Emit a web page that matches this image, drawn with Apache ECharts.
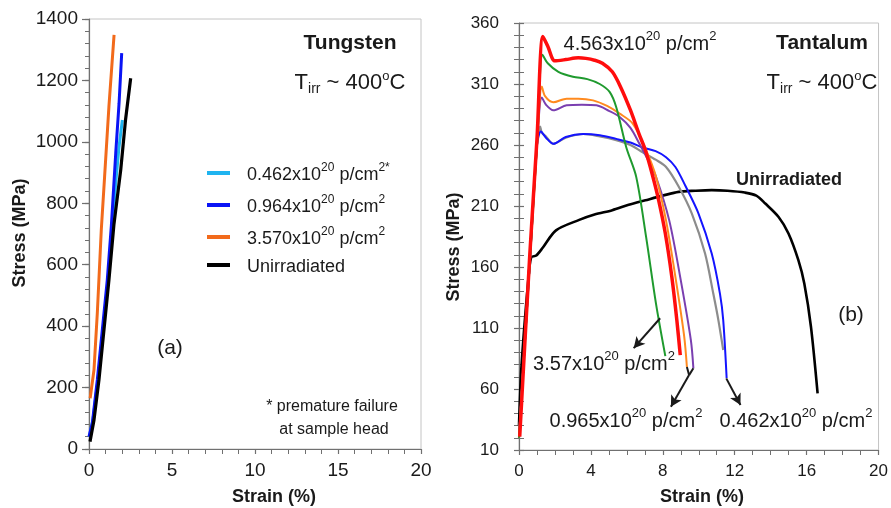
<!DOCTYPE html>
<html><head><meta charset="utf-8">
<script src="https://cdn.jsdelivr.net/npm/echarts@6.0.0/dist/echarts.min.js"></script>
<style>html,body{margin:0;padding:0;background:#fff}#c{width:891px;height:508px}</style>
</head><body><div id="c"></div>
<script>
// ---------- Data: Tungsten (panel a) ----------
const wCyan   = [[0.02,40],[0.25,100],[0.55,230],[0.85,390],[1.15,550],[1.4,713],[1.6,860],[1.8,980],[2.01,1071]];
const wBlue   = [[0,40],[0.2,84],[0.5,225],[0.8,387],[1.1,550],[1.35,730],[1.61,963],[1.81,1125],[1.97,1289]];
const wOrange = [[0.07,165],[0.1,170],[0.3,257],[0.5,442],[0.74,713],[0.94,887],[1.2,1115],[1.51,1348]];
const wBlack  = [[0.06,24],[0.3,94],[0.6,225],[0.9,387],[1.2,550],[1.5,730],[1.91,908],[2.2,1071],[2.51,1207]];
// ---------- Data: Tantalum (panel b) ----------
const tRed    = [[0.04,21],[0.6,170],[1.0,265],[1.33,349],[1.6,341],[2.0,329],[2.6,330],[3.3,331.5],[3.72,331],[4.2,329.5],[4.64,327],[5.19,320],[5.65,307.6],[6.2,288.5],[6.67,269.4],[7.03,255.7],[7.4,236.6],[7.77,214.7],[8.14,187.4],[8.5,152],[8.78,116.5],[8.97,87.8]];
const tGreen  = [[0,20],[0.6,164],[1.0,260],[1.31,334],[1.6,327],[2.19,320],[3.0,316],[3.8,314],[4.49,310],[5.04,303.6],[5.41,291],[5.97,258],[6.52,233.9],[7.07,184.7],[7.62,130],[8.14,87]];
const tOrange = [[0,20],[0.6,164],[1.0,260],[1.27,308],[1.45,300],[1.91,295],[2.65,298],[3.3,298],[4.12,296.6],[4.9,292],[5.6,285.7],[6.33,277.5],[7.07,255.7],[7.62,234],[8.18,198],[8.73,149],[9.19,103],[9.34,78]];
const tPurple = [[0,20],[0.6,164],[1.0,260],[1.27,299],[1.5,293],[1.91,288.4],[2.65,292.5],[3.5,293],[4.31,292.5],[5.0,288],[5.6,283],[6.2,274],[6.7,261],[7.2,247],[7.62,234],[8.36,198],[9.0,149],[9.56,100],[9.7,77]];
const tGrey   = [[0,20],[0.6,164],[1.0,260],[1.18,275],[1.27,270],[1.5,267],[1.91,261],[2.6,266],[3.57,269],[4.5,267],[5.41,264],[6.2,260],[6.88,254],[7.6,248],[8.18,242],[8.88,226],[9.61,204],[10.35,171],[10.81,138],[11.09,116.5],[11.36,92]];
const tBlue   = [[0,20],[0.6,164],[1.0,260],[1.22,271],[1.5,266],[1.91,261],[2.6,266.5],[3.57,269],[4.5,268],[5.41,265],[6.2,262],[6.88,258],[7.6,255],[8.18,250],[8.7,242],[9.24,227],[9.98,204],[10.72,171],[11.18,138],[11.36,116.5],[11.55,69]];
const tBlack  = [[0,30],[0.13,77],[0.5,146.5],[0.68,168],[0.96,169.4],[1.33,176],[2.06,190],[3.35,198.6],[4.2,203],[5.19,206.6],[6.1,211],[7.03,214.7],[8.0,218.5],[8.88,221.6],[9.8,222.5],[10.72,223],[11.6,222.5],[12.56,221],[13.2,218.5],[13.7,212],[14.44,201],[14.99,187.5],[15.54,165.6],[15.87,146.5],[16.24,111],[16.61,56.4]];
// arrows (data coords, panel b)
const arrowGreen = [[7.85,118],[6.38,93.5]];
const arrowMidA  = [[9.34,78],[9.46,71.4]];
const arrowMidB  = [[9.7,77],[9.46,71.4]];
const arrowMid   = [[9.46,71.4],[8.45,45.5]];
const arrowBlue  = [[11.53,68.7],[12.32,46.9]];
// axis ticks
const wXTicks = {min:0,max:20,interval:5};
const wYTicks = {min:0,max:1400,interval:200};
const tXTicks = {min:0,max:20,interval:4};
const tYTicks = {min:10,max:360,interval:50};
const legendNames = ['0.462','0.964','3.570','Unirradiated'];

const FF = "'Liberation Sans', Arial, sans-serif";
const NF = "'Liberation Sans Narrow', 'Liberation Sans', Arial, sans-serif";
const chart = echarts.init(document.getElementById('c'), null, {renderer:'canvas'});

const legRich = {
  a:{fontSize:18,fontFamily:FF,color:'#1a1a1a',lineHeight:22,verticalAlign:'bottom'},
  s:{fontSize:12,fontFamily:FF,color:'#1a1a1a',lineHeight:22,verticalAlign:'top'}
};
function doseRich(v, star){ return '{a|'+v+'x10}{s|20}{a| p/cm}{s|2'+(star?'*':'')+'}'; }

const annRich = {
  a:{fontSize:20,fontFamily:FF,fill:'#1a1a1a',lineHeight:24,verticalAlign:'bottom'},
  s:{fontSize:13,fontFamily:FF,fill:'#1a1a1a',lineHeight:24,verticalAlign:'top'}
};
const tirrRich = {
  a:{fontSize:22,fontFamily:FF,fill:'#1a1a1a',lineHeight:26,verticalAlign:'middle'},
  sub:{fontSize:14,fontFamily:FF,fill:'#1a1a1a',lineHeight:26,verticalAlign:'bottom'},
  s:{fontSize:13,fontFamily:FF,fill:'#1a1a1a',lineHeight:26,verticalAlign:'top'}
};
const tirrText = '{a|T}{sub|irr}{a| ~ 400}{s|o}{a|C}';
const fmt = function(v){ return String(v); };
const TC = '#707070';

// main axis (line + labels), tick marks supplied by tick-only axes
function mainAxis(o){
  return {
    type:'value', gridIndex:o.grid, min:o.t.min, max:o.t.max, interval:o.t.interval, position:o.position,
    axisLine:{show:true,onZero:false,lineStyle:{color:TC,width:1.2}},
    axisTick:{show:false}, minorTick:{show:false},
    splitLine:{show:false},
    axisLabel:{show:true,color:'#1a1a1a',fontFamily:o.ff,fontSize:o.fs,margin:o.margin,formatter:fmt}
  };
}
// tick-only axis: inside ticks, shifted outward by offset
function tickAxis(o){
  return {
    type:'value', gridIndex:o.grid, min:o.t.min, max:o.t.max, interval:o.t.interval, position:o.position,
    offset:o.offset||0,
    axisLine:{show:false,onZero:false},
    axisTick:{show:true,inside:true,length:o.len,lineStyle:{color:TC,width:1.2}},
    minorTick:{show:true,splitNumber:o.minor,length:o.mlen,lineStyle:{color:TC,width:1}},
    splitLine:{show:false}, axisLabel:{show:false}
  };
}

function arrowLine(pts, arrow){
  return [{coord:pts[0],symbol:'none'},{coord:pts[1],symbol:arrow?'arrow':'none',symbolSize:arrow?[9,11]:0}];
}
function lineSeries(name, gi, data, color, width, smooth, extra){
  return Object.assign({name:name,type:'line',xAxisIndex:gi,yAxisIndex:gi,data:data,showSymbol:false,symbol:'none',
    smooth:smooth,lineStyle:{color:color,width:width},itemStyle:{color:color}}, extra||{});
}
const ml = (arr)=>({silent:true,label:{show:false},lineStyle:{color:'#1a1a1a',width:2,type:'solid'},data:arr});

const option = {
  animation:false,
  backgroundColor:'#fff',
  grid:[
    {left:89,top:19,width:332,height:430,show:true,borderColor:'#c4c4c4',borderWidth:1},
    {left:519,top:23,width:362,height:427,show:true,borderColor:'#c4c4c4',borderWidth:1}
  ],
  xAxis:[
    mainAxis({grid:0,t:wXTicks,position:'bottom',ff:FF,fs:19,margin:12}),
    mainAxis({grid:1,t:tXTicks,position:'bottom',ff:NF,fs:17,margin:13}),
    tickAxis({grid:0,t:wXTicks,position:'bottom',offset:5,len:5,minor:5,mlen:5}),
    tickAxis({grid:1,t:tXTicks,position:'bottom',offset:5,len:5,minor:4,mlen:5})
  ],
  yAxis:[
    mainAxis({grid:0,t:wYTicks,position:'left',ff:FF,fs:19,margin:11}),
    mainAxis({grid:1,t:tYTicks,position:'left',ff:NF,fs:17,margin:20}),
    tickAxis({grid:0,t:wYTicks,position:'left',offset:7,len:7,minor:5,mlen:0}),
    tickAxis({grid:0,t:wYTicks,position:'left',offset:4,len:4,minor:5,mlen:4}),
    tickAxis({grid:1,t:tYTicks,position:'left',offset:5,len:10,minor:5,mlen:10})
  ],
  legend:{
    orient:'vertical', left:207, top:162, padding:0, itemWidth:23, itemHeight:4, itemGap:10, icon:'rect',
    data:legendNames, selectedMode:false,
    textStyle:{padding:[0,0,0,12],rich:legRich},
    formatter:function(n){
      if(n==='0.462') return doseRich('0.462',true);
      if(n==='0.964') return doseRich('0.964',false);
      if(n==='3.570') return doseRich('3.570',false);
      return '{a|Unirradiated}';
    }
  },
  series:[
    lineSeries('0.462',0,wCyan,'#1fb4f0',3,false),
    lineSeries('0.964',0,wBlue,'#0a14f5',3,false),
    lineSeries('3.570',0,wOrange,'#f26a1b',3,false),
    lineSeries('Unirradiated',0,wBlack,'#000',3.2,false),

    lineSeries('Ta unirr',1,tBlack,'#000',2.6,0.3),
    lineSeries('Ta grey',1,tGrey,'#8c8c8c',2.2,0.3),
    lineSeries('Ta blue',1,tBlue,'#1414ff',2,0.3,{markLine:ml([arrowLine(arrowBlue,true)])}),
    lineSeries('Ta purple',1,tPurple,'#7a3fb0',2,0.3,{markLine:ml([arrowLine(arrowMidA,false),arrowLine(arrowMidB,false),arrowLine(arrowMid,true)])}),
    lineSeries('Ta orange',1,tOrange,'#ff8a1f',2,0.3),
    lineSeries('Ta green',1,tGreen,'#1f9a2e',2,0.3,{markLine:ml([arrowLine(arrowGreen,true)])}),
    lineSeries('Ta red',1,tRed,'#ff0d0d',3.5,0.3)
  ],
  graphic:[
    {type:'text',x:20,y:233,rotation:Math.PI/2,style:{text:'Stress (MPa)',font:'bold 18px '+FF,fill:'#1a1a1a',align:'center',verticalAlign:'middle'}},
    {type:'text',x:274,y:497,style:{text:'Strain (%)',font:'bold 18px '+FF,fill:'#1a1a1a',align:'center',verticalAlign:'middle'}},
    {type:'text',x:454,y:247,rotation:Math.PI/2,style:{text:'Stress (MPa)',font:'bold 18px '+FF,fill:'#1a1a1a',align:'center',verticalAlign:'middle'}},
    {type:'text',x:702,y:497,style:{text:'Strain (%)',font:'bold 18px '+FF,fill:'#1a1a1a',align:'center',verticalAlign:'middle'}},
    {type:'text',x:350,y:43,style:{text:'Tungsten',font:'bold 21px '+FF,fill:'#1a1a1a',align:'center',verticalAlign:'middle'}},
    {type:'text',x:350,y:83,style:{text:tirrText,rich:tirrRich,align:'center',verticalAlign:'middle'}},
    {type:'text',x:822,y:43,style:{text:'Tantalum',font:'bold 21px '+FF,fill:'#1a1a1a',align:'center',verticalAlign:'middle'}},
    {type:'text',x:822,y:83,style:{text:tirrText,rich:tirrRich,align:'center',verticalAlign:'middle'}},
    {type:'text',x:170,y:348,style:{text:'(a)',font:'21px '+FF,fill:'#1a1a1a',align:'center',verticalAlign:'middle'}},
    {type:'text',x:851,y:315,style:{text:'(b)',font:'21px '+FF,fill:'#1a1a1a',align:'center',verticalAlign:'middle'}},
    {type:'text',x:332,y:407,style:{text:'* premature failure',font:'16px '+FF,fill:'#1a1a1a',align:'center',verticalAlign:'middle'}},
    {type:'text',x:334,y:430,style:{text:'at sample head',font:'16px '+FF,fill:'#1a1a1a',align:'center',verticalAlign:'middle'}},
    {type:'text',x:789,y:180,style:{text:'Unirradiated',font:'bold 18px '+FF,fill:'#1a1a1a',align:'center',verticalAlign:'middle'}},
    {type:'text',x:640,y:42,style:{text:doseRich('4.563',false),rich:annRich,align:'center',verticalAlign:'middle'}},
    {type:'text',x:604,y:362,style:{text:doseRich('3.57',false),rich:annRich,align:'center',verticalAlign:'middle'}},
    {type:'text',x:626,y:419,style:{text:doseRich('0.965',false),rich:annRich,align:'center',verticalAlign:'middle'}},
    {type:'text',x:796,y:419,style:{text:doseRich('0.462',false),rich:annRich,align:'center',verticalAlign:'middle'}}
  ]
};
chart.setOption(option);
</script></body></html>
